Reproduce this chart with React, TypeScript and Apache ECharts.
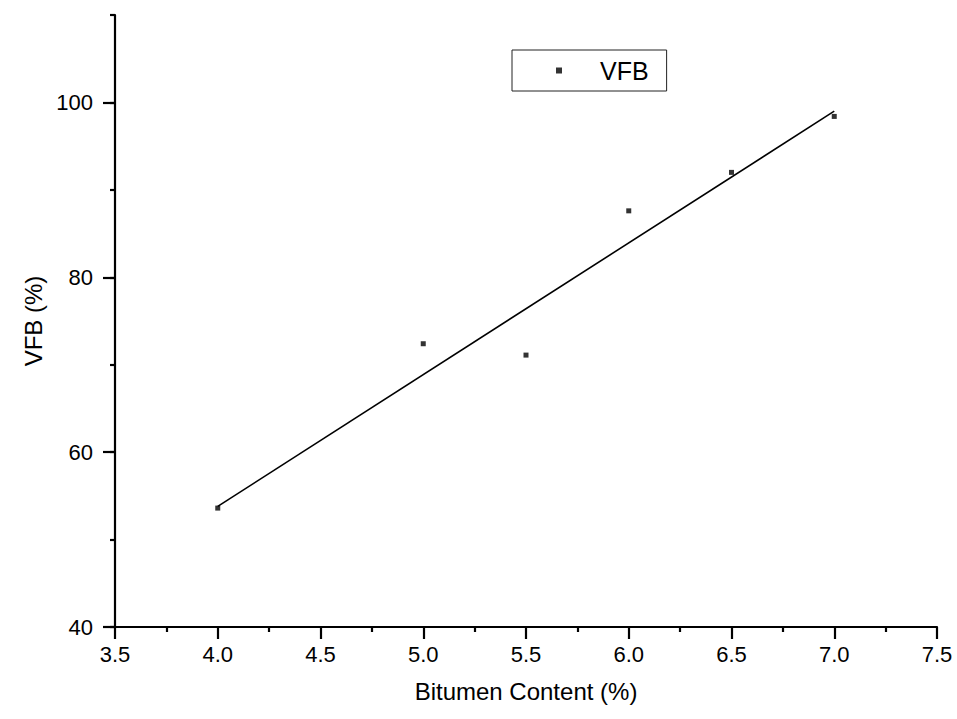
import React, { useEffect, useRef } from "react";
import * as echarts from "echarts";

const bitumenContent = [4.0, 5.0, 5.5, 6.0, 6.5, 7.0];
const vfbValues = [53.6, 72.4, 71.1, 87.6, 92.0, 98.4];
const fitLineX = [4.0, 7.0];
const fitLineY = [53.8, 99.0];
const yMajorTicks = [40, 60, 80, 100];

const FONT = "'Liberation Sans', Arial, sans-serif";

export default function App() {
  const ref = useRef<HTMLDivElement>(null);
  useEffect(() => {
    if (!ref.current) return;
    const chart = echarts.init(ref.current, undefined, { renderer: "svg" });
    const axisLineStyle = { color: "#000", width: 2.2 };
    chart.setOption({
      animation: false,
      backgroundColor: "#fff",
      textStyle: { fontFamily: FONT, color: "#000" },
      grid: { left: 115, right: 20, top: 15, bottom: 92, containLabel: false },
      legend: {
        data: ["VFB"],
        left: 512,
        top: 50,
        orient: "horizontal",
        padding: [8, 18, 8, 44],
        borderColor: "#222",
        borderWidth: 1,
        itemWidth: 6,
        itemHeight: 6,
        icon: "rect",
        textStyle: { fontSize: 25, color: "#000", fontFamily: FONT, padding: [0, 0, 0, 33] },
      },
      xAxis: {
        type: "value",
        min: 3.5,
        max: 7.5,
        interval: 0.5,
        name: "Bitumen Content (%)",
        nameLocation: "middle",
        nameGap: 52,
        nameTextStyle: { fontSize: 24, color: "#000", fontFamily: FONT },
        axisLine: { show: true, onZero: false, lineStyle: axisLineStyle },
        axisTick: { show: true, length: 12, lineStyle: axisLineStyle },
        minorTick: { show: true, splitNumber: 2, length: 5, lineStyle: axisLineStyle },
        axisLabel: {
          fontSize: 22,
          color: "#000",
          fontFamily: FONT,
          margin: 16,
          formatter: (v: number) => v.toFixed(1),
        },
        splitLine: { show: false },
      },
      yAxis: [
        {
          type: "value",
          min: 40,
          max: 110,
          interval: 10,
          position: "left",
          axisLine: { show: true, onZero: false, lineStyle: axisLineStyle },
          axisTick: { show: true, length: 5, lineStyle: axisLineStyle },
          axisLabel: { show: false },
          splitLine: { show: false },
        },
        {
          type: "value",
          min: 40,
          max: 110,
          position: "left",
          name: "VFB (%)",
          nameLocation: "middle",
          nameGap: 68,
          nameRotate: 90,
          nameTextStyle: { fontSize: 24, color: "#000", fontFamily: FONT },
          axisLine: { show: false },
          axisTick: { show: true, length: 12, lineStyle: axisLineStyle, customValues: yMajorTicks },
          axisLabel: {
            fontSize: 22,
            color: "#000",
            fontFamily: FONT,
            margin: 22,
            customValues: yMajorTicks,
          },
          splitLine: { show: false },
        },
      ],
      series: [
        {
          name: "VFB",
          type: "scatter",
          yAxisIndex: 0,
          symbol: "rect",
          symbolSize: 5,
          itemStyle: { color: "#000" },
          data: bitumenContent.map((x, i) => [x, vfbValues[i]]),
        },
        {
          name: "Linear Fit",
          type: "line",
          yAxisIndex: 0,
          showSymbol: false,
          symbol: "none",
          lineStyle: { color: "#000", width: 1.6 },
          data: fitLineX.map((x, i) => [x, fitLineY[i]]),
        },
      ],
    });
    return () => chart.dispose();
  }, []);
  return <div ref={ref} style={{ width: 957, height: 719, position: "absolute", left: 0, top: 0 }} />;
}
